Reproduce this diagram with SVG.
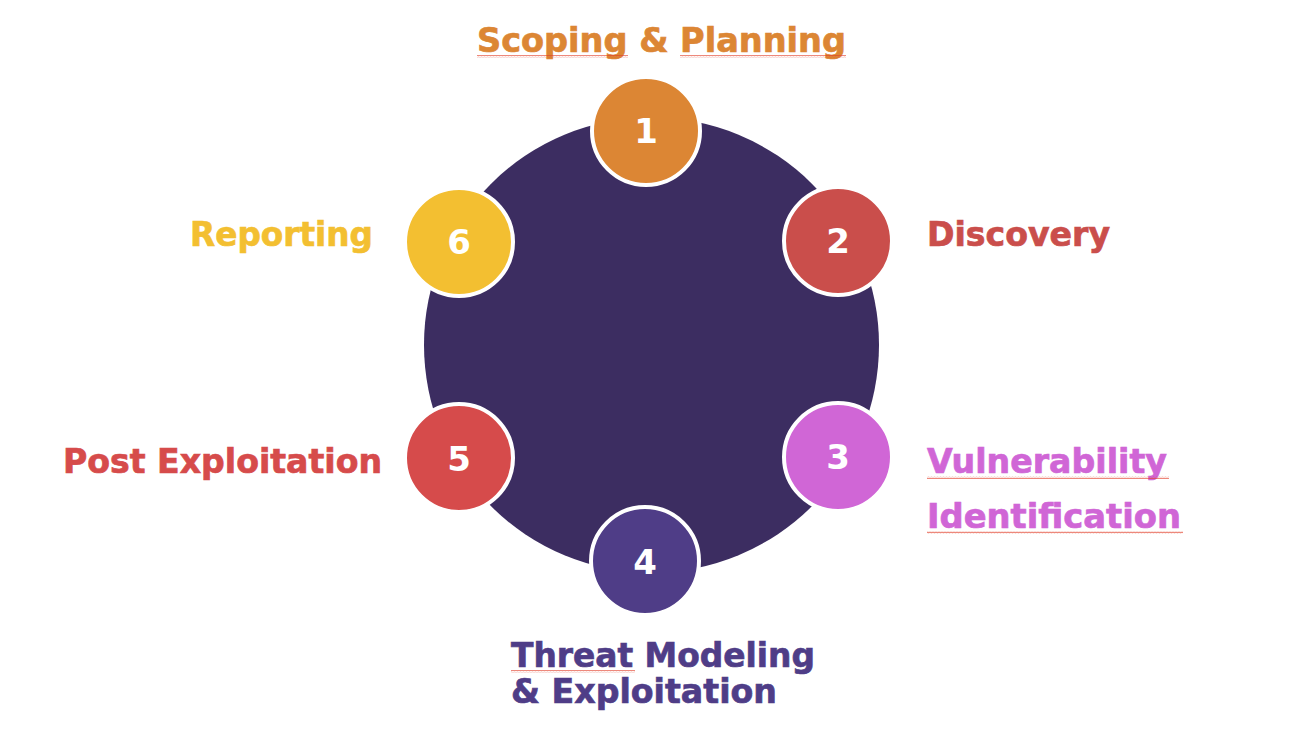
<svg xmlns="http://www.w3.org/2000/svg" width="1290" height="747" viewBox="0 0 1290 747">
<defs>
<pattern id="squig" x="0" y="0" width="3" height="3" patternUnits="userSpaceOnUse">
<path d="M0,2.2 L0.75,0.8 L1.5,2.2 L2.25,0.8 L3,2.2" fill="none" stroke="#E0402A" stroke-width="0.6"/>
</pattern>
</defs>
<style>
.lbl{font-family:"DejaVu Sans","Liberation Sans",sans-serif;font-weight:bold;font-size:34px;stroke-width:0.7}
.num{font-family:"DejaVu Sans","Liberation Sans",sans-serif;font-weight:bold;font-size:34px;fill:#FFFFFF;text-anchor:middle}
.dot{stroke:#FFFFFF;stroke-width:4}
.sq{fill:url(#squig)}
</style>
<rect width="1290" height="747" fill="#FFFFFF"/>
<g id="hub">
<circle cx="651.5" cy="345" r="227.5" fill="#3C2D61"/>
</g>
<g id="step1">
<circle class="dot" cx="646" cy="131" r="54" fill="#DC8634"/>
<text class="num" x="646" y="143">1</text>
<text class="lbl" x="477" y="52" fill="#DC8634" stroke="#DC8634" textLength="369" lengthAdjust="spacingAndGlyphs">Scoping &amp; Planning</text>
<rect class="sq" x="477" y="55" width="151" height="3"/>
<rect class="sq" x="680" y="55" width="166" height="3"/>
</g>
<g id="step2">
<circle class="dot" cx="838" cy="241" r="54" fill="#CA4E4B"/>
<text class="num" x="838" y="253">2</text>
<text class="lbl" x="927" y="246" fill="#CA4E4B" stroke="#CA4E4B" textLength="183" lengthAdjust="spacingAndGlyphs">Discovery</text>
</g>
<g id="step3">
<circle class="dot" cx="838" cy="457" r="54" fill="#D066D6"/>
<text class="num" x="838" y="469">3</text>
<text class="lbl" x="927" y="473" fill="#D066D6" stroke="#D066D6" textLength="240" lengthAdjust="spacingAndGlyphs">Vulnerability</text>
<text class="lbl" x="927" y="528" fill="#D066D6" stroke="#D066D6" textLength="254" lengthAdjust="spacingAndGlyphs">Identification</text>
<rect class="sq" x="927" y="476" width="242" height="3"/>
<rect class="sq" x="927" y="531" width="256" height="3"/>
</g>
<g id="step4">
<circle class="dot" cx="645" cy="561" r="54" fill="#4F3D87"/>
<text class="num" x="645" y="574">4</text>
<text class="lbl" x="511" y="667" fill="#4F3D87" stroke="#4F3D87" textLength="304" lengthAdjust="spacingAndGlyphs">Threat Modeling</text>
<text class="lbl" x="511" y="703" fill="#4F3D87" stroke="#4F3D87" textLength="266" lengthAdjust="spacingAndGlyphs">&amp; Exploitation</text>
<rect class="sq" x="511" y="670" width="124" height="3"/>
</g>
<g id="step5">
<circle class="dot" cx="459" cy="458" r="54" fill="#D64B4B"/>
<text class="num" x="459" y="471">5</text>
<text class="lbl" x="63" y="473" fill="#D64B4B" stroke="#D64B4B" textLength="319" lengthAdjust="spacingAndGlyphs">Post Exploitation</text>
</g>
<g id="step6">
<circle class="dot" cx="459" cy="242" r="54" fill="#F3BF31"/>
<text class="num" x="459" y="254">6</text>
<text class="lbl" x="190" y="246" fill="#F3BF31" stroke="#F3BF31" textLength="183" lengthAdjust="spacingAndGlyphs">Reporting</text>
</g>
<g id="connectors"></g>
</svg>
